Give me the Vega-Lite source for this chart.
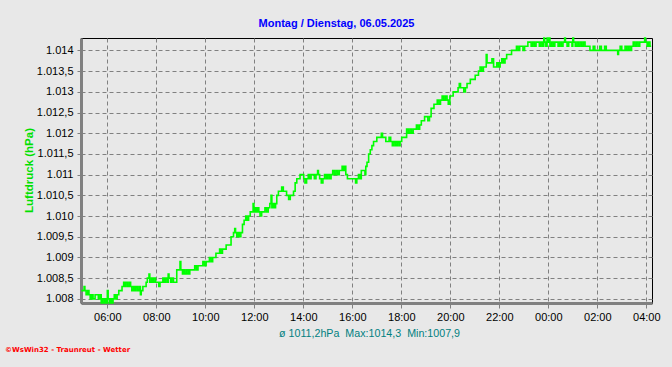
{
"$schema": "https://vega.github.io/schema/vega-lite/v6.json",
"width": 571, "height": 265,
"autosize": {"type": "none"},
"padding": {"left": 81, "top": 38, "right": 20, "bottom": 64},
"background": "#e8e8e8",
"config": {"view": {"stroke": "#000000", "strokeWidth": 1, "fill": "#e8e8e8"}, "font": "Liberation Sans"},
"title": {"text": "Montag / Dienstag, 06.05.2025", "anchor": "middle", "frame": "group", "color": "#0000ff", "fontSize": 11, "fontWeight": "bold", "font": "Liberation Sans", "dx": -30, "offset": 6},
"data": {"values": [
{"t":"2025-05-05T04:56","p":1008.2},{"t":"2025-05-05T05:00","p":1008.2},{"t":"2025-05-05T05:03","p":1008.3},{"t":"2025-05-05T05:05","p":1008.2},{"t":"2025-05-05T05:08","p":1008.1},{"t":"2025-05-05T05:12","p":1008.2},{"t":"2025-05-05T05:15","p":1008.1},{"t":"2025-05-05T05:18","p":1008.0},{"t":"2025-05-05T05:22","p":1008.1},{"t":"2025-05-05T05:25","p":1008.0},{"t":"2025-05-05T05:30","p":1008.1},{"t":"2025-05-05T05:35","p":1008.1},{"t":"2025-05-05T05:38","p":1008.0},{"t":"2025-05-05T05:42","p":1008.1},{"t":"2025-05-05T05:45","p":1007.9},{"t":"2025-05-05T05:48","p":1008.0},{"t":"2025-05-05T05:52","p":1007.9},{"t":"2025-05-05T05:55","p":1008.0},{"t":"2025-05-05T05:58","p":1007.9},
{"t":"2025-05-05T06:00","p":1008.2},{"t":"2025-05-05T06:02","p":1008.0},{"t":"2025-05-05T06:05","p":1007.9},{"t":"2025-05-05T06:08","p":1008.0},{"t":"2025-05-05T06:11","p":1007.9},{"t":"2025-05-05T06:14","p":1008.0},{"t":"2025-05-05T06:17","p":1008.1},{"t":"2025-05-05T06:20","p":1008.0},{"t":"2025-05-05T06:24","p":1008.1},{"t":"2025-05-05T06:28","p":1008.2},{"t":"2025-05-05T06:32","p":1008.2},{"t":"2025-05-05T06:36","p":1008.3},{"t":"2025-05-05T06:40","p":1008.4},{"t":"2025-05-05T06:43","p":1008.3},{"t":"2025-05-05T06:46","p":1008.4},{"t":"2025-05-05T06:50","p":1008.3},{"t":"2025-05-05T06:54","p":1008.4},{"t":"2025-05-05T06:57","p":1008.3},
{"t":"2025-05-05T07:00","p":1008.2},{"t":"2025-05-05T07:04","p":1008.3},{"t":"2025-05-05T07:07","p":1008.2},{"t":"2025-05-05T07:10","p":1008.3},{"t":"2025-05-05T07:14","p":1008.2},{"t":"2025-05-05T07:18","p":1008.3},{"t":"2025-05-05T07:21","p":1008.1},{"t":"2025-05-05T07:23","p":1008.2},{"t":"2025-05-05T07:27","p":1008.3},{"t":"2025-05-05T07:31","p":1008.3},{"t":"2025-05-05T07:35","p":1008.4},{"t":"2025-05-05T07:38","p":1008.5},{"t":"2025-05-05T07:42","p":1008.6},{"t":"2025-05-05T07:44","p":1008.4},{"t":"2025-05-05T07:48","p":1008.5},{"t":"2025-05-05T07:51","p":1008.4},{"t":"2025-05-05T07:54","p":1008.5},{"t":"2025-05-05T07:58","p":1008.4},
{"t":"2025-05-05T08:02","p":1008.4},{"t":"2025-05-05T08:06","p":1008.3},{"t":"2025-05-05T08:09","p":1008.4},{"t":"2025-05-05T08:13","p":1008.4},{"t":"2025-05-05T08:16","p":1008.5},{"t":"2025-05-05T08:19","p":1008.4},{"t":"2025-05-05T08:22","p":1008.5},{"t":"2025-05-05T08:26","p":1008.4},{"t":"2025-05-05T08:29","p":1008.6},{"t":"2025-05-05T08:31","p":1008.5},{"t":"2025-05-05T08:35","p":1008.4},{"t":"2025-05-05T08:38","p":1008.5},{"t":"2025-05-05T08:42","p":1008.4},{"t":"2025-05-05T08:46","p":1008.4},{"t":"2025-05-05T08:50","p":1008.7},{"t":"2025-05-05T08:55","p":1008.7},{"t":"2025-05-05T08:58","p":1008.9},
{"t":"2025-05-05T09:00","p":1008.7},{"t":"2025-05-05T09:04","p":1008.6},{"t":"2025-05-05T09:07","p":1008.7},{"t":"2025-05-05T09:10","p":1008.6},{"t":"2025-05-05T09:14","p":1008.7},{"t":"2025-05-05T09:18","p":1008.6},{"t":"2025-05-05T09:22","p":1008.7},{"t":"2025-05-05T09:26","p":1008.7},{"t":"2025-05-05T09:30","p":1008.7},{"t":"2025-05-05T09:34","p":1008.8},{"t":"2025-05-05T09:38","p":1008.7},{"t":"2025-05-05T09:42","p":1008.8},{"t":"2025-05-05T09:46","p":1008.8},{"t":"2025-05-05T09:50","p":1008.8},{"t":"2025-05-05T09:54","p":1008.9},{"t":"2025-05-05T09:58","p":1008.8},
{"t":"2025-05-05T10:02","p":1008.9},{"t":"2025-05-05T10:06","p":1008.9},{"t":"2025-05-05T10:10","p":1009.0},{"t":"2025-05-05T10:14","p":1008.9},{"t":"2025-05-05T10:18","p":1009.0},{"t":"2025-05-05T10:22","p":1009.0},{"t":"2025-05-05T10:26","p":1009.1},{"t":"2025-05-05T10:31","p":1009.1},{"t":"2025-05-05T10:35","p":1009.2},{"t":"2025-05-05T10:38","p":1009.1},{"t":"2025-05-05T10:42","p":1009.2},{"t":"2025-05-05T10:47","p":1009.2},{"t":"2025-05-05T10:51","p":1009.3},{"t":"2025-05-05T10:56","p":1009.3},
{"t":"2025-05-05T11:00","p":1009.3},{"t":"2025-05-05T11:03","p":1009.5},{"t":"2025-05-05T11:06","p":1009.5},{"t":"2025-05-05T11:09","p":1009.6},{"t":"2025-05-05T11:12","p":1009.7},{"t":"2025-05-05T11:14","p":1009.6},{"t":"2025-05-05T11:17","p":1009.5},{"t":"2025-05-05T11:20","p":1009.6},{"t":"2025-05-05T11:23","p":1009.5},{"t":"2025-05-05T11:27","p":1009.6},{"t":"2025-05-05T11:31","p":1009.8},{"t":"2025-05-05T11:35","p":1009.9},{"t":"2025-05-05T11:39","p":1010.0},{"t":"2025-05-05T11:42","p":1009.9},{"t":"2025-05-05T11:46","p":1010.0},{"t":"2025-05-05T11:50","p":1010.1},{"t":"2025-05-05T11:54","p":1010.1},{"t":"2025-05-05T11:57","p":1010.3},{"t":"2025-05-05T11:59","p":1010.1},
{"t":"2025-05-05T12:02","p":1010.2},{"t":"2025-05-05T12:05","p":1010.1},{"t":"2025-05-05T12:08","p":1010.2},{"t":"2025-05-05T12:11","p":1010.1},{"t":"2025-05-05T12:14","p":1010.0},{"t":"2025-05-05T12:18","p":1010.1},{"t":"2025-05-05T12:22","p":1010.1},{"t":"2025-05-05T12:26","p":1010.2},{"t":"2025-05-05T12:30","p":1010.1},{"t":"2025-05-05T12:34","p":1010.2},{"t":"2025-05-05T12:38","p":1010.3},{"t":"2025-05-05T12:41","p":1010.5},{"t":"2025-05-05T12:43","p":1010.2},{"t":"2025-05-05T12:46","p":1010.3},{"t":"2025-05-05T12:49","p":1010.2},{"t":"2025-05-05T12:52","p":1010.3},{"t":"2025-05-05T12:55","p":1010.5},{"t":"2025-05-05T12:59","p":1010.6},
{"t":"2025-05-05T13:03","p":1010.6},{"t":"2025-05-05T13:07","p":1010.7},{"t":"2025-05-05T13:11","p":1010.6},{"t":"2025-05-05T13:15","p":1010.6},{"t":"2025-05-05T13:19","p":1010.5},{"t":"2025-05-05T13:24","p":1010.4},{"t":"2025-05-05T13:28","p":1010.5},{"t":"2025-05-05T13:32","p":1010.5},{"t":"2025-05-05T13:36","p":1010.6},{"t":"2025-05-05T13:40","p":1010.8},{"t":"2025-05-05T13:44","p":1010.9},{"t":"2025-05-05T13:48","p":1010.9},{"t":"2025-05-05T13:52","p":1011.0},{"t":"2025-05-05T13:57","p":1011.0},
{"t":"2025-05-05T14:01","p":1010.9},{"t":"2025-05-05T14:04","p":1010.8},{"t":"2025-05-05T14:08","p":1010.9},{"t":"2025-05-05T14:12","p":1011.0},{"t":"2025-05-05T14:15","p":1010.9},{"t":"2025-05-05T14:19","p":1011.0},{"t":"2025-05-05T14:23","p":1011.0},{"t":"2025-05-05T14:27","p":1010.9},{"t":"2025-05-05T14:31","p":1011.0},{"t":"2025-05-05T14:35","p":1011.1},{"t":"2025-05-05T14:37","p":1011.0},{"t":"2025-05-05T14:40","p":1010.9},{"t":"2025-05-05T14:44","p":1010.8},{"t":"2025-05-05T14:48","p":1010.9},{"t":"2025-05-05T14:52","p":1011.0},{"t":"2025-05-05T14:56","p":1010.9},
{"t":"2025-05-05T15:00","p":1011.0},{"t":"2025-05-05T15:04","p":1010.9},{"t":"2025-05-05T15:08","p":1011.0},{"t":"2025-05-05T15:12","p":1011.1},{"t":"2025-05-05T15:16","p":1011.0},{"t":"2025-05-05T15:20","p":1011.1},{"t":"2025-05-05T15:24","p":1011.0},{"t":"2025-05-05T15:28","p":1011.1},{"t":"2025-05-05T15:32","p":1011.1},{"t":"2025-05-05T15:35","p":1011.2},{"t":"2025-05-05T15:38","p":1011.1},{"t":"2025-05-05T15:41","p":1011.2},{"t":"2025-05-05T15:44","p":1011.0},{"t":"2025-05-05T15:48","p":1010.9},{"t":"2025-05-05T15:52","p":1010.9},{"t":"2025-05-05T15:56","p":1010.9},
{"t":"2025-05-05T16:00","p":1010.9},{"t":"2025-05-05T16:04","p":1010.9},{"t":"2025-05-05T16:08","p":1010.8},{"t":"2025-05-05T16:11","p":1010.9},{"t":"2025-05-05T16:15","p":1011.0},{"t":"2025-05-05T16:19","p":1010.9},{"t":"2025-05-05T16:22","p":1011.1},{"t":"2025-05-05T16:27","p":1011.1},{"t":"2025-05-05T16:31","p":1011.0},{"t":"2025-05-05T16:33","p":1011.2},{"t":"2025-05-05T16:36","p":1011.3},{"t":"2025-05-05T16:40","p":1011.5},{"t":"2025-05-05T16:44","p":1011.6},{"t":"2025-05-05T16:48","p":1011.7},{"t":"2025-05-05T16:52","p":1011.8},{"t":"2025-05-05T16:56","p":1011.8},
{"t":"2025-05-05T17:00","p":1011.9},{"t":"2025-05-05T17:04","p":1011.9},{"t":"2025-05-05T17:08","p":1011.9},{"t":"2025-05-05T17:11","p":1012.0},{"t":"2025-05-05T17:14","p":1011.9},{"t":"2025-05-05T17:18","p":1011.9},{"t":"2025-05-05T17:22","p":1011.8},{"t":"2025-05-05T17:26","p":1011.8},{"t":"2025-05-05T17:30","p":1011.9},{"t":"2025-05-05T17:34","p":1011.8},{"t":"2025-05-05T17:38","p":1011.7},{"t":"2025-05-05T17:42","p":1011.8},{"t":"2025-05-05T17:46","p":1011.7},{"t":"2025-05-05T17:50","p":1011.8},{"t":"2025-05-05T17:54","p":1011.7},{"t":"2025-05-05T17:57","p":1011.8},
{"t":"2025-05-05T18:01","p":1011.9},{"t":"2025-05-05T18:05","p":1011.9},{"t":"2025-05-05T18:09","p":1011.9},{"t":"2025-05-05T18:13","p":1012.1},{"t":"2025-05-05T18:17","p":1012.0},{"t":"2025-05-05T18:21","p":1012.1},{"t":"2025-05-05T18:25","p":1012.0},{"t":"2025-05-05T18:29","p":1012.1},{"t":"2025-05-05T18:33","p":1012.1},{"t":"2025-05-05T18:37","p":1012.2},{"t":"2025-05-05T18:41","p":1012.1},{"t":"2025-05-05T18:45","p":1012.2},{"t":"2025-05-05T18:49","p":1012.3},{"t":"2025-05-05T18:53","p":1012.3},{"t":"2025-05-05T18:57","p":1012.4},
{"t":"2025-05-05T19:01","p":1012.4},{"t":"2025-05-05T19:05","p":1012.3},{"t":"2025-05-05T19:09","p":1012.4},{"t":"2025-05-05T19:13","p":1012.6},{"t":"2025-05-05T19:17","p":1012.6},{"t":"2025-05-05T19:20","p":1012.7},{"t":"2025-05-05T19:24","p":1012.7},{"t":"2025-05-05T19:28","p":1012.8},{"t":"2025-05-05T19:32","p":1012.7},{"t":"2025-05-05T19:36","p":1012.8},{"t":"2025-05-05T19:40","p":1012.9},{"t":"2025-05-05T19:44","p":1012.8},{"t":"2025-05-05T19:48","p":1012.9},{"t":"2025-05-05T19:52","p":1012.8},{"t":"2025-05-05T19:55","p":1012.7},{"t":"2025-05-05T19:59","p":1012.9},
{"t":"2025-05-05T20:03","p":1012.9},{"t":"2025-05-05T20:07","p":1013.0},{"t":"2025-05-05T20:11","p":1013.0},{"t":"2025-05-05T20:15","p":1013.0},{"t":"2025-05-05T20:19","p":1013.1},{"t":"2025-05-05T20:22","p":1013.2},{"t":"2025-05-05T20:25","p":1013.1},{"t":"2025-05-05T20:29","p":1013.1},{"t":"2025-05-05T20:33","p":1013.0},{"t":"2025-05-05T20:37","p":1013.1},{"t":"2025-05-05T20:41","p":1013.2},{"t":"2025-05-05T20:45","p":1013.2},{"t":"2025-05-05T20:49","p":1013.3},{"t":"2025-05-05T20:53","p":1013.3},{"t":"2025-05-05T20:57","p":1013.3},
{"t":"2025-05-05T21:01","p":1013.4},{"t":"2025-05-05T21:05","p":1013.4},{"t":"2025-05-05T21:09","p":1013.5},{"t":"2025-05-05T21:13","p":1013.6},{"t":"2025-05-05T21:17","p":1013.5},{"t":"2025-05-05T21:21","p":1013.6},{"t":"2025-05-05T21:26","p":1013.6},{"t":"2025-05-05T21:28","p":1013.9},{"t":"2025-05-05T21:30","p":1013.7},{"t":"2025-05-05T21:34","p":1013.7},{"t":"2025-05-05T21:38","p":1013.7},{"t":"2025-05-05T21:42","p":1013.8},{"t":"2025-05-05T21:46","p":1013.6},{"t":"2025-05-05T21:50","p":1013.6},{"t":"2025-05-05T21:54","p":1013.7},{"t":"2025-05-05T21:58","p":1013.6},
{"t":"2025-05-05T22:02","p":1013.7},{"t":"2025-05-05T22:06","p":1013.8},{"t":"2025-05-05T22:10","p":1013.7},{"t":"2025-05-05T22:14","p":1013.8},{"t":"2025-05-05T22:18","p":1013.9},{"t":"2025-05-05T22:22","p":1013.9},{"t":"2025-05-05T22:26","p":1013.9},{"t":"2025-05-05T22:30","p":1014.0},{"t":"2025-05-05T22:34","p":1014.0},{"t":"2025-05-05T22:38","p":1014.0},{"t":"2025-05-05T22:42","p":1014.1},{"t":"2025-05-05T22:46","p":1014.0},{"t":"2025-05-05T22:50","p":1014.1},{"t":"2025-05-05T22:54","p":1014.1},{"t":"2025-05-05T22:58","p":1014.0},
{"t":"2025-05-05T23:02","p":1014.1},{"t":"2025-05-05T23:06","p":1014.1},{"t":"2025-05-05T23:10","p":1014.2},{"t":"2025-05-05T23:14","p":1014.2},{"t":"2025-05-05T23:18","p":1014.1},{"t":"2025-05-05T23:22","p":1014.2},{"t":"2025-05-05T23:26","p":1014.1},{"t":"2025-05-05T23:30","p":1014.2},{"t":"2025-05-05T23:34","p":1014.2},{"t":"2025-05-05T23:38","p":1014.1},{"t":"2025-05-05T23:42","p":1014.2},{"t":"2025-05-05T23:46","p":1014.1},{"t":"2025-05-05T23:49","p":1014.3},{"t":"2025-05-05T23:51","p":1014.2},{"t":"2025-05-05T23:54","p":1014.1},{"t":"2025-05-05T23:57","p":1014.3},{"t":"2025-05-05T23:59","p":1014.2},
{"t":"2025-05-06T00:02","p":1014.3},{"t":"2025-05-06T00:04","p":1014.1},{"t":"2025-05-06T00:08","p":1014.2},{"t":"2025-05-06T00:12","p":1014.1},{"t":"2025-05-06T00:16","p":1014.2},{"t":"2025-05-06T00:20","p":1014.2},{"t":"2025-05-06T00:24","p":1014.1},{"t":"2025-05-06T00:28","p":1014.2},{"t":"2025-05-06T00:32","p":1014.1},{"t":"2025-05-06T00:36","p":1014.2},{"t":"2025-05-06T00:40","p":1014.3},{"t":"2025-05-06T00:42","p":1014.2},{"t":"2025-05-06T00:46","p":1014.1},{"t":"2025-05-06T00:50","p":1014.2},{"t":"2025-05-06T00:54","p":1014.2},{"t":"2025-05-06T00:58","p":1014.1},
{"t":"2025-05-06T01:00","p":1014.3},{"t":"2025-05-06T01:02","p":1014.2},{"t":"2025-05-06T01:06","p":1014.1},{"t":"2025-05-06T01:10","p":1014.2},{"t":"2025-05-06T01:14","p":1014.1},{"t":"2025-05-06T01:18","p":1014.2},{"t":"2025-05-06T01:22","p":1014.1},{"t":"2025-05-06T01:26","p":1014.2},{"t":"2025-05-06T01:30","p":1014.1},{"t":"2025-05-06T01:34","p":1014.1},{"t":"2025-05-06T01:38","p":1014.1},{"t":"2025-05-06T01:42","p":1014.0},{"t":"2025-05-06T01:46","p":1014.0},{"t":"2025-05-06T01:50","p":1014.1},{"t":"2025-05-06T01:54","p":1014.0},{"t":"2025-05-06T01:58","p":1014.0},
{"t":"2025-05-06T02:02","p":1014.0},{"t":"2025-05-06T02:06","p":1014.1},{"t":"2025-05-06T02:10","p":1014.0},{"t":"2025-05-06T02:14","p":1014.0},{"t":"2025-05-06T02:18","p":1014.1},{"t":"2025-05-06T02:22","p":1014.0},{"t":"2025-05-06T02:26","p":1014.0},{"t":"2025-05-06T02:30","p":1014.0},{"t":"2025-05-06T02:34","p":1014.0},{"t":"2025-05-06T02:38","p":1014.0},{"t":"2025-05-06T02:42","p":1014.0},{"t":"2025-05-06T02:46","p":1014.0},{"t":"2025-05-06T02:50","p":1013.9},{"t":"2025-05-06T02:52","p":1014.0},{"t":"2025-05-06T02:56","p":1014.1},
{"t":"2025-05-06T03:00","p":1014.0},{"t":"2025-05-06T03:04","p":1014.0},{"t":"2025-05-06T03:08","p":1014.1},{"t":"2025-05-06T03:12","p":1014.0},{"t":"2025-05-06T03:16","p":1014.1},{"t":"2025-05-06T03:20","p":1014.0},{"t":"2025-05-06T03:24","p":1014.1},{"t":"2025-05-06T03:28","p":1014.2},{"t":"2025-05-06T03:32","p":1014.1},{"t":"2025-05-06T03:36","p":1014.2},{"t":"2025-05-06T03:40","p":1014.1},{"t":"2025-05-06T03:44","p":1014.2},{"t":"2025-05-06T03:48","p":1014.2},{"t":"2025-05-06T03:52","p":1014.2},{"t":"2025-05-06T03:56","p":1014.3},{"t":"2025-05-06T03:58","p":1014.2},
{"t":"2025-05-06T04:02","p":1014.1},{"t":"2025-05-06T04:05","p":1014.2},{"t":"2025-05-06T04:09","p":1014.1},{"t":"2025-05-06T04:12","p":1014.1}
]},
"layer": [
{"mark": {"type": "line", "interpolate": "step-after", "color": "#00ff00", "strokeWidth": 1.6},
"encoding": {
 "x": {"field": "t", "type": "temporal",
  "scale": {"domain": [{"year": 2025, "month": 5, "date": 5, "hours": 4, "minutes": 55, "seconds": 30}, {"year": 2025, "month": 5, "date": 6, "hours": 4, "minutes": 14}], "nice": false},
  "axis": {"orient": "bottom",
   "values": [{"year": 2025, "month": 5, "date": 5, "hours": 6}, {"year": 2025, "month": 5, "date": 5, "hours": 8}, {"year": 2025, "month": 5, "date": 5, "hours": 10}, {"year": 2025, "month": 5, "date": 5, "hours": 12}, {"year": 2025, "month": 5, "date": 5, "hours": 14}, {"year": 2025, "month": 5, "date": 5, "hours": 16}, {"year": 2025, "month": 5, "date": 5, "hours": 18}, {"year": 2025, "month": 5, "date": 5, "hours": 20}, {"year": 2025, "month": 5, "date": 5, "hours": 22}, {"year": 2025, "month": 5, "date": 6, "hours": 0}, {"year": 2025, "month": 5, "date": 6, "hours": 2}, {"year": 2025, "month": 5, "date": 6, "hours": 4}],
   "format": "%H:%M",
   "labelOverlap": false, "labelFlush": false, "labelFont": "Liberation Sans", "labelFontSize": 11, "labelColor": "#000000", "labelPadding": 3,
   "tickColor": "#808080", "tickSize": 5, "domainColor": "#808080", "domainWidth": 3,
   "gridColor": "#808080", "gridDash": [4, 3], "gridWidth": 1,
   "title": "ø 1011,2hPa\u00a0\u00a0Max:1014,3\u00a0\u00a0Min:1007,9", "titleColor": "#008080", "titleFont": "Liberation Sans", "titleFontSize": 10.7, "titleFontWeight": "normal",
   "titleX": 288, "titleY": 33, "titleBaseline": "alphabetic", "titleAlign": "center"}},
 "y": {"field": "p", "type": "quantitative",
  "scale": {"domain": [1007.9, 1014.3], "nice": false, "zero": false},
  "axis": {"values": [1008,1008.5,1009,1009.5,1010,1010.5,1011,1011.5,1012,1012.5,1013,1013.5,1014],
   "labelExpr": "replace(replace(replace(format(datum.value, ','), ',', '#'), '.', ','), '#', '.')",
   "labelOverlap": false, "labelFont": "Liberation Sans", "labelFontSize": 11, "labelColor": "#000000", "labelPadding": 4,
   "tickColor": "#808080", "tickSize": 4,
   "domainColor": "#808080", "domainWidth": 3,
   "gridColor": "#808080", "gridDash": [4, 3], "gridWidth": 1,
   "title": "Luftdruck (hPa)", "titleColor": "#00e000", "titleFont": "Liberation Sans", "titleFontSize": 11.5, "titleFontWeight": "bold",
   "titleX": -52, "titleY": 132, "titleAngle": -90, "titleBaseline": "middle", "titleAlign": "center"}}
}},
{"data": {"values": [{"label": "©WsWin32 - Traunreut - Wetter"}]},
 "mark": {"type": "text", "align": "left", "baseline": "top", "color": "#ff0000", "font": "DejaVu Sans", "fontSize": 7, "fontWeight": "bold", "dx": -76, "dy": 43},
 "encoding": {
  "x": {"datum": {"year": 2025, "month": 5, "date": 5, "hours": 4, "minutes": 55, "seconds": 30}, "type": "temporal",
   "scale": {"domain": [{"year": 2025, "month": 5, "date": 5, "hours": 4, "minutes": 55, "seconds": 30}, {"year": 2025, "month": 5, "date": 6, "hours": 4, "minutes": 14}], "nice": false},
   "axis": {"orient": "bottom",
    "values": [{"year": 2025, "month": 5, "date": 5, "hours": 6}, {"year": 2025, "month": 5, "date": 5, "hours": 8}, {"year": 2025, "month": 5, "date": 5, "hours": 10}, {"year": 2025, "month": 5, "date": 5, "hours": 12}, {"year": 2025, "month": 5, "date": 5, "hours": 14}, {"year": 2025, "month": 5, "date": 5, "hours": 16}, {"year": 2025, "month": 5, "date": 5, "hours": 18}, {"year": 2025, "month": 5, "date": 5, "hours": 20}, {"year": 2025, "month": 5, "date": 5, "hours": 22}, {"year": 2025, "month": 5, "date": 6, "hours": 0}, {"year": 2025, "month": 5, "date": 6, "hours": 2}, {"year": 2025, "month": 5, "date": 6, "hours": 4}],
    "format": "%H:%M",
    "labelOverlap": false, "labelFlush": false, "labelFont": "Liberation Sans", "labelFontSize": 11, "labelColor": "#000000", "labelPadding": 3,
    "tickColor": "#808080", "tickSize": 5, "domainColor": "#808080", "domainWidth": 3,
    "gridColor": "#808080", "gridDash": [4, 3], "gridWidth": 1,
    "title": "ø 1011,2hPa\u00a0\u00a0Max:1014,3\u00a0\u00a0Min:1007,9", "titleColor": "#008080", "titleFont": "Liberation Sans", "titleFontSize": 10.7, "titleFontWeight": "normal",
    "titleX": 288, "titleY": 33, "titleBaseline": "alphabetic", "titleAlign": "center"}},
  "y": {"datum": 1007.9, "type": "quantitative",
   "scale": {"domain": [1007.9, 1014.3], "nice": false, "zero": false},
   "axis": {"values": [1008,1008.5,1009,1009.5,1010,1010.5,1011,1011.5,1012,1012.5,1013,1013.5,1014],
    "labelExpr": "replace(replace(replace(format(datum.value, ','), ',', '#'), '.', ','), '#', '.')",
    "labelOverlap": false, "labelFont": "Liberation Sans", "labelFontSize": 11, "labelColor": "#000000", "labelPadding": 4,
    "tickColor": "#808080", "tickSize": 4,
    "domainColor": "#808080", "domainWidth": 3,
    "gridColor": "#808080", "gridDash": [4, 3], "gridWidth": 1,
    "title": "Luftdruck (hPa)", "titleColor": "#00e000", "titleFont": "Liberation Sans", "titleFontSize": 11.5, "titleFontWeight": "bold",
    "titleX": -52, "titleY": 132, "titleAngle": -90, "titleBaseline": "middle", "titleAlign": "center"}},
  "text": {"field": "label", "type": "nominal"}
 }}
]
}
